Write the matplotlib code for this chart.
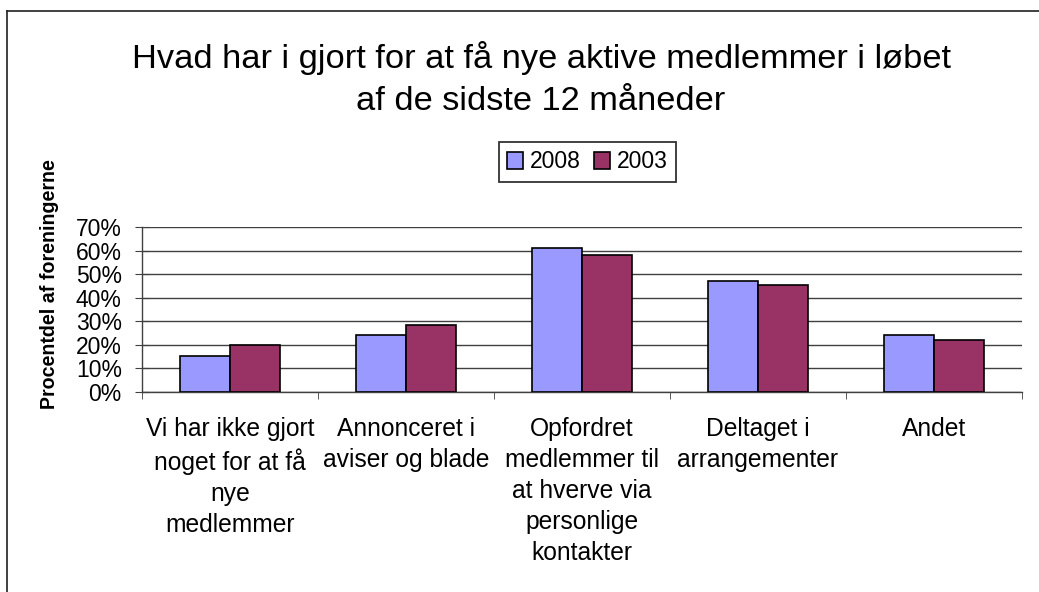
import matplotlib
matplotlib.use("Agg")
import matplotlib.pyplot as plt
import numpy as np
from matplotlib.lines import Line2D

plt.rcParams['font.family'] = ['Liberation Sans', 'DejaVu Sans']

categories = [
    "Vi har ikke gjort\nnoget for at få\nnye\nmedlemmer",
    "Annonceret i\naviser og blade",
    "Opfordret\nmedlemmer til\nat hverve via\npersonlige\nkontakter",
    "Deltaget i\narrangementer",
    "Andet",
]
series_names = ["2008", "2003"]
values_2008 = [15, 24, 61, 47, 24]
values_2003 = [20, 28.5, 58, 45.5, 22]
yticks = [0, 10, 20, 30, 40, 50, 60, 70]
ytick_labels = ["0%", "10%", "20%", "30%", "40%", "50%", "60%", "70%"]
title = "Hvad har i gjort for at få nye aktive medlemmer i løbet\naf de sidste 12 måneder"
ylabel = "Procentdel af foreningerne"

colors = ["#9999FF", "#993366"]

W, H = 1039, 592
fig = plt.figure(figsize=(W / 100, H / 100), dpi=100)
fig.patch.set_facecolor("white")

ax = fig.add_axes([142 / W, 1 - 391.7 / H, 880 / W, 164.7 / H])

x = np.arange(len(categories))
bw = 0.286
ax.bar(x - bw / 2, values_2008, bw, color=colors[0], edgecolor="black", linewidth=1.2,
       label=series_names[0], zorder=3)
ax.bar(x + bw / 2, values_2003, bw, color=colors[1], edgecolor="black", linewidth=1.2,
       label=series_names[1], zorder=3)

ax.set_xlim(-0.5, len(categories) - 0.5)
ax.set_ylim(0, 70)
ax.set_yticks(yticks)
ax.set_yticklabels(ytick_labels, fontsize=16.5)
ax.yaxis.grid(True, color="#404040", linewidth=1.0, zorder=0)
ax.set_axisbelow(True)

ax.set_xticks(x)
ax.set_xticklabels(categories, fontsize=17.7, linespacing=1.37)
ax.set_xticks(np.arange(-0.5, len(categories), 1.0), minor=True)
ax.tick_params(axis="x", which="major", length=0, pad=18)
ax.tick_params(axis="x", which="minor", length=5, direction="out", color="#404040")
ax.tick_params(axis="y", direction="inout", length=10, pad=9.5, color="#404040")

for s in ["top", "right"]:
    ax.spines[s].set_visible(False)
ax.spines["left"].set_color("#404040")
ax.spines["bottom"].set_color("#404040")
ax.spines["left"].set_linewidth(1.0)
ax.spines["bottom"].set_linewidth(1.0)

fig.text(541 / W, 1 - 79 / H, title, ha="center", va="center", fontsize=24.75,
         linespacing=1.45)
fig.text(49.5 / W, 1 - 284 / H, ylabel, ha="center", va="center", rotation=90,
         fontsize=14.1, fontweight="bold")

leg = fig.legend(loc="center", bbox_to_anchor=(587.5 / W, 1 - 162 / H), ncol=2,
                 fontsize=16.5, frameon=True, fancybox=False, handlelength=0.7,
                 handleheight=0.7, handletextpad=0.3, columnspacing=0.6,
                 borderpad=0.35, borderaxespad=0)
leg.get_frame().set_edgecolor("black")
leg.get_frame().set_linewidth(1.3)

# chart-area border (left and top edges visible in the reference)
fig.add_artist(Line2D([6.5 / W, 6.5 / W], [0, 1 - 10.5 / H], transform=fig.transFigure,
                      color="#202020", linewidth=1.2))
fig.add_artist(Line2D([6.5 / W, 1], [1 - 10.5 / H, 1 - 10.5 / H], transform=fig.transFigure,
                      color="#202020", linewidth=1.2))

fig.savefig("out.png", dpi=100)
